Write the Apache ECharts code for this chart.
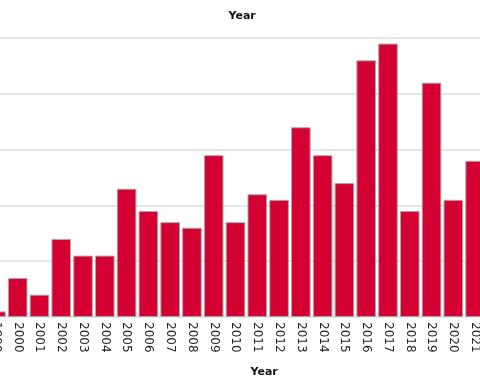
<!DOCTYPE html>
<html><head><meta charset="utf-8">
<script src="https://cdn.jsdelivr.net/npm/echarts@6/dist/echarts.min.js"></script>
<style>html,body{margin:0;padding:0;background:#fff;overflow:hidden;width:480px;height:384px;position:relative}#c{position:absolute;left:-14.6px;top:0;width:500.6px;height:384px}</style>
</head><body><div id="c"></div>
<script>
const years = ['1999','2000','2001','2002','2003','2004','2005','2006','2007','2008','2009','2010','2011','2012','2013','2014','2015','2016','2017','2018','2019','2020','2021'];
const counts = [1,7,4,14,11,11,23,19,17,16,29,17,22,21,34,29,24,46,49,19,42,21,28];
const titleText = 'Year';
const axisTitleText = 'Year';

const chart = echarts.init(document.getElementById('c'), null, {renderer:'canvas'});
chart.setOption({
  animation:false,
  backgroundColor:'#fff',
  title:[
    {text:titleText, left:252.1, top:6, textAlign:'center',
     textStyle:{fontFamily:'DejaVu Sans', fontSize:11, fontWeight:'bold', color:'#111'}},
    {text:axisTitleText, left:274.1, top:362, textAlign:'center',
     textStyle:{fontFamily:'DejaVu Sans', fontSize:11, fontWeight:'bold', color:'#111'}}
  ],
  grid:{left:0, right:0, top:38, bottom:67, containLabel:false},
  xAxis:{type:'category', data:years,
    axisLine:{show:false}, axisTick:{show:false},
    axisLabel:{rotate:-90, margin:5, interval:0, fontFamily:'DejaVu Sans', fontSize:12, color:'#222'}},
  yAxis:{type:'value', min:0, max:50, interval:10,
    axisLabel:{show:false}, axisLine:{show:false}, axisTick:{show:false},
    splitLine:{lineStyle:{color:'#dcdcdc', width:1.5}}},
  series:[{type:'bar', data:counts, barCategoryGap:'10%',
    itemStyle:{color:'#d50032', borderColor:'#a8a8a8', borderWidth:1}}]
});
</script></body></html>
